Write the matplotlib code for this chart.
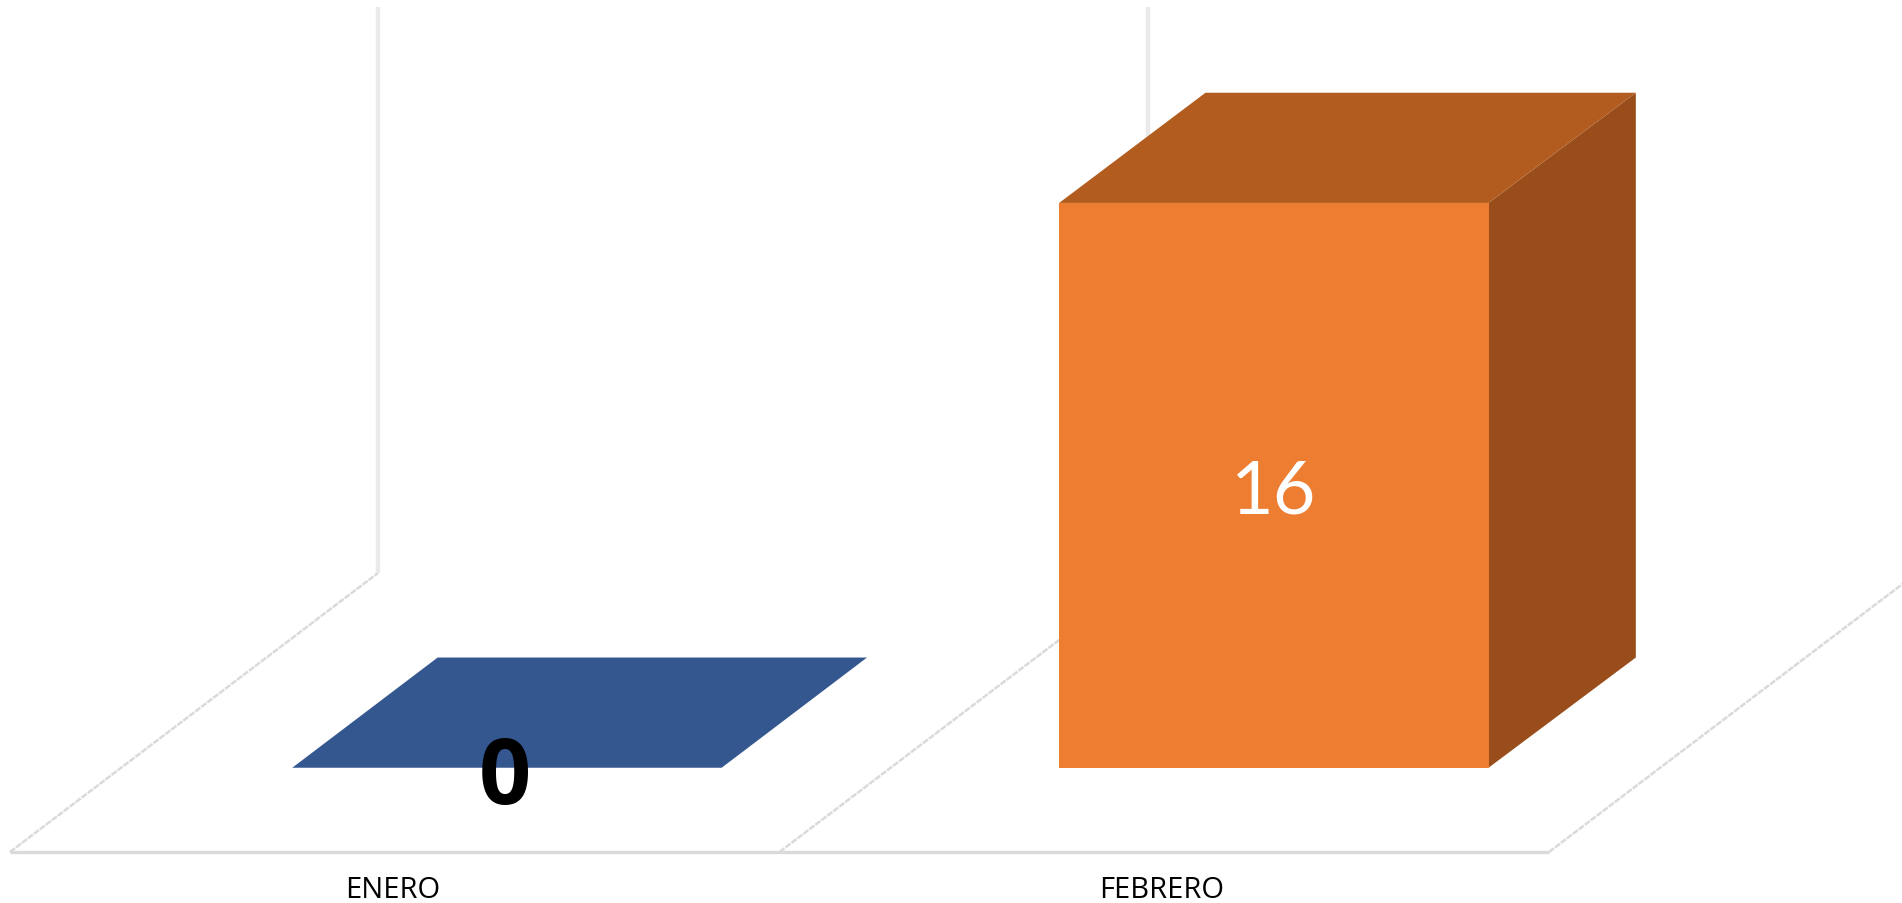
import matplotlib
matplotlib.use("Agg")
import matplotlib.pyplot as plt
from matplotlib.patches import Polygon

categories = ["ENERO", "FEBRERO"]
values = [0, 16]
value_labels = ["0", "16"]
front_colors = ["#34578F", "#ED7D31"]
top_colors = ["#34578F", "#B35C20"]
side_colors = ["#27426C", "#994D1B"]
label_fonts = ["Open Sans", "Lato"]

W, H = 1902, 904
PX_PER_CAT = 769.5
PX_PER_VAL = 35.3
FLOOR_DEPTH_PX = 279.0
SHEAR_PX = 368.0
AXIS_MAX = 16.03
BAR_WIDTH = 0.558
DEPTH_FRONT, DEPTH_BACK = 0.302, 0.697
BAR_NUDGE = [0.0014, -0.002]
BACK_NUDGE = [0.0, 0.0025]
TEXT_NUDGE = [-0.003, 0.0]
CAT_NUDGE = -0.003
CAT_LABEL_Y = -1.06

fig = plt.figure(figsize=(W / 100, H / 100), dpi=100, facecolor="white")
ax = fig.add_axes([0, 0, 1, 1])
x0_px, y0_px = 10.0, 853.0
ax.set_xlim(-0.5 - x0_px / PX_PER_CAT, -0.5 + (W - x0_px) / PX_PER_CAT)
ax.set_ylim((y0_px - H) / PX_PER_VAL, y0_px / PX_PER_VAL)
ax.axis("off")


def proj(x, v, d):
    """Oblique projection of (category, value, depth) into axes data units."""
    return (x + d * SHEAR_PX / PX_PER_CAT, v + d * FLOOR_DEPTH_PX / PX_PER_VAL)


LINE = "#DADADA"
WALL = "#EAEAEA"
n = len(categories)
# floor front edge
xa, ya = proj(-0.5, 0, 0)
xb, yb = proj(n - 0.5, 0, 0)
ax.plot([xa, xb], [ya, yb], color=LINE, lw=2.4, zorder=1, solid_capstyle="butt")
# floor dividers and walls
for i in range(n + 1):
    xa, ya = proj(i - 0.5, 0, 0)
    xb, yb = proj(i - 0.5, 0, 1)
    ax.plot([xa, xb], [ya, yb], color=LINE, lw=1.8, ls=(0, (2.5, 0.5)), zorder=1)
    if i < n:
        xt, yt = proj(i - 0.5, AXIS_MAX, 1)
        ax.plot([xb, xt], [yb, yt], color=WALL, lw=3.2, zorder=1, solid_capstyle="butt")

# bars
for i, v in enumerate(values):
    c = i + BAR_NUDGE[i]
    l, r = c - BAR_WIDTH / 2, c + BAR_WIDTH / 2
    bk = BACK_NUDGE[i]
    fl0, fr0 = proj(l, 0, DEPTH_FRONT), proj(r, 0, DEPTH_FRONT)
    fl1, fr1 = proj(l, v, DEPTH_FRONT), proj(r, v, DEPTH_FRONT)
    bl1, br1 = proj(l + bk / 2, v, DEPTH_BACK), proj(r + bk, v, DEPTH_BACK)
    br0 = proj(r + bk, 0, DEPTH_BACK)
    z = 3
    if v > 0:
        ax.add_patch(Polygon([fr0, br0, br1, fr1], closed=True, fc=side_colors[i], ec="none", zorder=z))
        ax.add_patch(Polygon([fl0, fr0, fr1, fl1], closed=True, fc=front_colors[i], ec="none", zorder=z))
    ax.add_patch(Polygon([fl1, fr1, br1, bl1], closed=True, fc=top_colors[i], ec="none", zorder=z))
    cx, cy = proj(i + BAR_NUDGE[i] + TEXT_NUDGE[i], v / 2, DEPTH_FRONT)
    bold = v == 0
    ax.text(cx, cy, value_labels[i], ha="center", va="center_baseline",
            family=label_fonts[i], fontsize=66 if bold else 53,
            fontweight="bold" if bold else "normal",
            color="black" if bold else "white", zorder=5)

# category labels
for i, c in enumerate(categories):
    ax.text(i + CAT_NUDGE, CAT_LABEL_Y, c, ha="center", va="center", family="Open Sans",
            fontsize=21, color="black", zorder=5)

fig.savefig("out.png", dpi=100, facecolor="white")
